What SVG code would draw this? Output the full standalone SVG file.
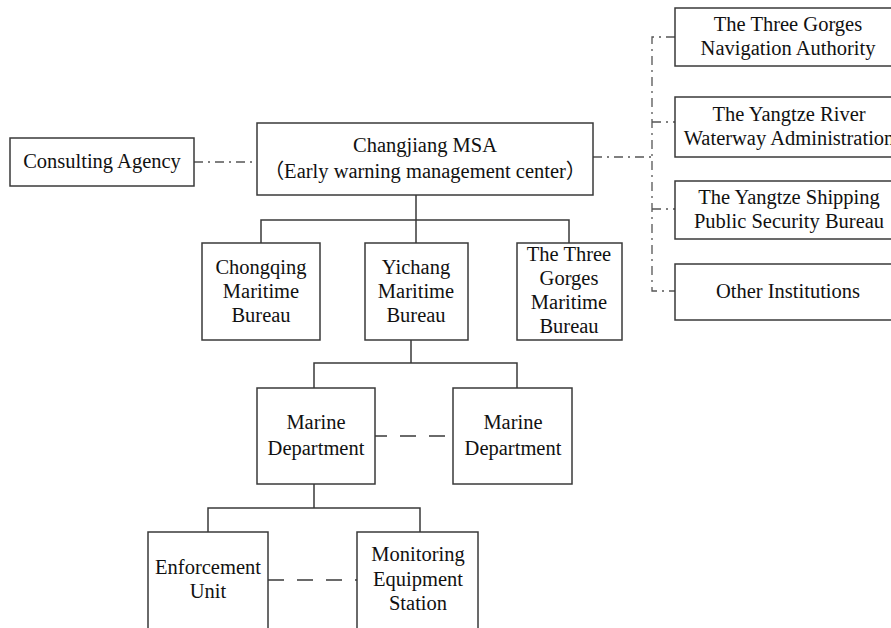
<svg xmlns="http://www.w3.org/2000/svg" width="891" height="628" viewBox="0 0 891 628">
  <style>
    .box { fill: #ffffff; stroke: #3a3a3a; stroke-width: 1.5; }
    .lbl { font-family: "Liberation Serif", "Noto Sans CJK SC", serif; font-size: 20.5px; fill: #111111; text-anchor: middle; }
    .solid { fill: none; stroke: #3a3a3a; stroke-width: 1.5; }
    .dashdot { fill: none; stroke: #555555; stroke-width: 1.3; stroke-dasharray: 9 5 2 5; }
    .dash { fill: none; stroke: #3a3a3a; stroke-width: 1.5; stroke-dasharray: 16 13; }
  </style>
  <rect width="891" height="628" fill="#ffffff"/>

  <g id="connectors">
    <!-- hierarchy: MSA to bureaus -->
    <path class="solid" d="M416 195 V220 M261 243 V220 H569 V243 M416 220 V243"/>
    <!-- Yichang to marine departments -->
    <path class="solid" d="M411 340 V363 M314 388 V363 H517 V388"/>
    <!-- marine department to units -->
    <path class="solid" d="M314 484 V508 M208 532 V508 H420 V532"/>
    <!-- cooperation links -->
    <path class="dashdot" d="M194 162 H257"/>
    <path class="dashdot" d="M593 157 H652"/>
    <path class="dashdot" d="M675 37 H652 V291 H675 M652 122 H675 M652 209 H675"/>
    <path class="dash" d="M375 436 H453" stroke-dashoffset="4"/>
    <path class="dash" d="M268 580 H357" stroke-dashoffset="0"/>
  </g>

  <g id="consulting">
    <rect class="box" x="10" y="138" width="184" height="48"/>
    <text class="lbl" x="102" y="168">Consulting Agency</text>
  </g>

  <g id="msa">
    <rect class="box" x="257" y="123" width="336" height="72"/>
    <text class="lbl" x="425" y="152">Changjiang MSA</text>
    <text class="lbl" x="425" y="178">（Early warning management center）</text>
  </g>

  <g id="navigation">
    <rect class="box" x="675" y="8" width="230" height="58"/>
    <text class="lbl" x="788" y="31">The Three Gorges</text>
    <text class="lbl" x="788" y="55">Navigation Authority</text>
  </g>
  <g id="waterway">
    <rect class="box" x="675" y="97" width="230" height="60"/>
    <text class="lbl" x="789" y="121">The Yangtze River</text>
    <text class="lbl" x="789" y="145">Waterway Administration</text>
  </g>
  <g id="police">
    <rect class="box" x="675" y="181" width="230" height="58"/>
    <text class="lbl" x="789" y="204">The Yangtze Shipping</text>
    <text class="lbl" x="789" y="228">Public Security Bureau</text>
  </g>
  <g id="others">
    <rect class="box" x="675" y="264" width="230" height="56"/>
    <text class="lbl" x="788" y="298">Other Institutions</text>
  </g>

  <g id="chongqing">
    <rect class="box" x="202" y="243" width="118" height="97"/>
    <text class="lbl" x="261" y="274">Chongqing</text>
    <text class="lbl" x="261" y="298">Maritime</text>
    <text class="lbl" x="261" y="322">Bureau</text>
  </g>
  <g id="yichang">
    <rect class="box" x="365" y="243" width="103" height="97"/>
    <text class="lbl" x="416" y="274">Yichang</text>
    <text class="lbl" x="416" y="298">Maritime</text>
    <text class="lbl" x="416" y="322">Bureau</text>
  </g>
  <g id="threegorges">
    <rect class="box" x="517" y="243" width="105" height="97"/>
    <text class="lbl" x="569" y="261">The Three</text>
    <text class="lbl" x="569" y="285">Gorges</text>
    <text class="lbl" x="569" y="309">Maritime</text>
    <text class="lbl" x="569" y="333">Bureau</text>
  </g>

  <g id="marine1">
    <rect class="box" x="257" y="388" width="118" height="96"/>
    <text class="lbl" x="316" y="429">Marine</text>
    <text class="lbl" x="316" y="455">Department</text>
  </g>
  <g id="marine2">
    <rect class="box" x="453" y="388" width="119" height="96"/>
    <text class="lbl" x="513" y="429">Marine</text>
    <text class="lbl" x="513" y="455">Department</text>
  </g>

  <g id="enforcement">
    <rect class="box" x="148" y="532" width="120" height="110"/>
    <text class="lbl" x="208" y="574">Enforcement</text>
    <text class="lbl" x="208" y="598">Unit</text>
  </g>
  <g id="monitoring">
    <rect class="box" x="357" y="532" width="121" height="110"/>
    <text class="lbl" x="418" y="561">Monitoring</text>
    <text class="lbl" x="418" y="586">Equipment</text>
    <text class="lbl" x="418" y="610">Station</text>
  </g>
</svg>
